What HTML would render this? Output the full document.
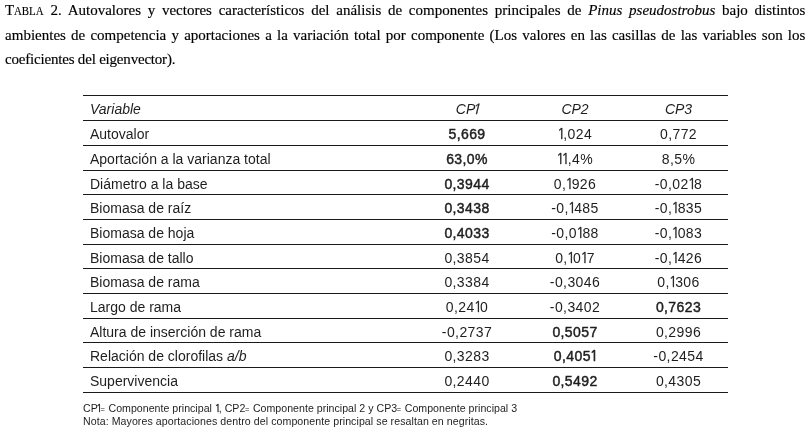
<!DOCTYPE html>
<html><head><meta charset="utf-8">
<style>
html,body{margin:0;padding:0;background:#fff;}
body{width:812px;height:433px;position:relative;overflow:hidden;color:#1e1e1e;}
.cap{color:#000;-webkit-text-stroke:0.15px #000;position:absolute;left:5.1px;width:800.3px;font-family:"Liberation Serif",serif;font-size:15px;line-height:24px;white-space:nowrap;}
.cap .j{display:block;text-align:justify;text-align-last:justify;white-space:normal;}
.cap .l3{letter-spacing:-0.2px;}
.sc{font-size:12.5px;display:inline-block;width:29.5px;transform:scaleX(0.87);transform-origin:0 0;}
.hl{position:absolute;left:83px;width:645px;height:1px;background:#1a1a1a;}
.row{position:absolute;left:0;width:812px;height:24px;line-height:24px;font-family:"Liberation Sans",sans-serif;font-size:14px;white-space:nowrap;}
.row>span{position:absolute;top:0;}
.v{left:90px;}
.c1,.c2,.c3{width:100px;text-align:center;letter-spacing:0.4px;}
.c1{left:417px;}
.c2{left:525px;}
.c3{left:628.5px;}
.hdr>span{letter-spacing:0;}
.o{font-family:"NanumGothic","Liberation Sans",sans-serif;margin-left:-1.0px;letter-spacing:-2.1px;-webkit-text-stroke:0.3px currentColor;}
.hdr .o{margin-left:-3.5px;}
.row b .o{-webkit-text-stroke:0.7px currentColor;}
.row b{font-weight:normal;-webkit-text-stroke:0.45px currentColor;}
.hdr{font-style:italic;}
.foot{position:absolute;left:83px;font-family:"Liberation Sans",sans-serif;font-size:10.6px;line-height:13px;white-space:nowrap;}
.foot .o{margin-left:-1.9px;letter-spacing:-1.4px;}
.foot .o2{margin-left:-0.4px;letter-spacing:-2.2px;}
.f1{top:402px;letter-spacing:0.02px;}
.eq{font-size:7.5px;vertical-align:0px;margin-left:-0.4px;margin-right:0.6px;}
.f2{top:415px;letter-spacing:0.07px;}

</style></head>
<body>
<div class="cap" style="top:-2px;">
<span class="j">T<span class="sc">ABLA</span> 2. Autovalores y vectores característicos del análisis de componentes principales de <i>Pinus pseudostrobus</i> bajo distintos</span>
<span class="j">ambientes de competencia y aportaciones a la variación total por componente (Los valores en las casillas de las variables son los</span>
<span class="l3">coeficientes del eigenvector).</span>
</div>
<div class="hl" style="top:95px"></div>
<div class="hl" style="top:120px"></div>
<div class="hl" style="top:145px"></div>
<div class="hl" style="top:170px"></div>
<div class="hl" style="top:194px"></div>
<div class="hl" style="top:219px"></div>
<div class="hl" style="top:244px"></div>
<div class="hl" style="top:268px"></div>
<div class="hl" style="top:293px"></div>
<div class="hl" style="top:318px"></div>
<div class="hl" style="top:342px"></div>
<div class="hl" style="top:367px"></div>
<div class="hl" style="top:392px"></div>
<div class="row hdr" style="top:97px"><span class="v">Variable</span><span class="c1">CP<span class="o">1</span></span><span class="c2">CP2</span><span class="c3">CP3</span></div>
<div class="row" style="top:122px"><span class="v">Autovalor</span><span class="c1"><b>5,669</b></span><span class="c2"><span class="o">1</span>,024</span><span class="c3">0,772</span></div>
<div class="row" style="top:147px"><span class="v">Aportación a la varianza total</span><span class="c1"><b>63,0%</b></span><span class="c2"><span class="o">1</span><span class="o">1</span>,4%</span><span class="c3">8,5%</span></div>
<div class="row" style="top:172px"><span class="v">Diámetro a la base</span><span class="c1"><b>0,3944</b></span><span class="c2">0,<span class="o">1</span>926</span><span class="c3">-0,02<span class="o">1</span>8</span></div>
<div class="row" style="top:196px"><span class="v">Biomasa de raíz</span><span class="c1"><b>0,3438</b></span><span class="c2">-0,<span class="o">1</span>485</span><span class="c3">-0,<span class="o">1</span>835</span></div>
<div class="row" style="top:221px"><span class="v">Biomasa de hoja</span><span class="c1"><b>0,4033</b></span><span class="c2">-0,0<span class="o">1</span>88</span><span class="c3">-0,<span class="o">1</span>083</span></div>
<div class="row" style="top:246px"><span class="v">Biomasa de tallo</span><span class="c1">0,3854</span><span class="c2">0,<span class="o">1</span>0<span class="o">1</span>7</span><span class="c3">-0,<span class="o">1</span>426</span></div>
<div class="row" style="top:270px"><span class="v">Biomasa de rama</span><span class="c1">0,3384</span><span class="c2">-0,3046</span><span class="c3">0,<span class="o">1</span>306</span></div>
<div class="row" style="top:295px"><span class="v">Largo de rama</span><span class="c1">0,24<span class="o">1</span>0</span><span class="c2">-0,3402</span><span class="c3"><b>0,7623</b></span></div>
<div class="row" style="top:320px"><span class="v">Altura de inserción de rama</span><span class="c1">-0,2737</span><span class="c2"><b>0,5057</b></span><span class="c3">0,2996</span></div>
<div class="row" style="top:344px"><span class="v">Relación de clorofilas <i>a/b</i></span><span class="c1">0,3283</span><span class="c2"><b>0,405<span class="o">1</span></b></span><span class="c3">-0,2454</span></div>
<div class="row" style="top:369px"><span class="v">Supervivencia</span><span class="c1">0,2440</span><span class="c2"><b>0,5492</b></span><span class="c3">0,4305</span></div>
<div class="foot f1">CP<span class="o">1</span><span class="eq">=</span> Componente principal <span class="o o2">1</span>, CP2<span class="eq">=</span> Componente principal 2 y CP3<span class="eq">=</span> Componente principal 3</div>
<div class="foot f2">Nota: Mayores aportaciones dentro del componente principal se resaltan en negritas.</div>
</body></html>
